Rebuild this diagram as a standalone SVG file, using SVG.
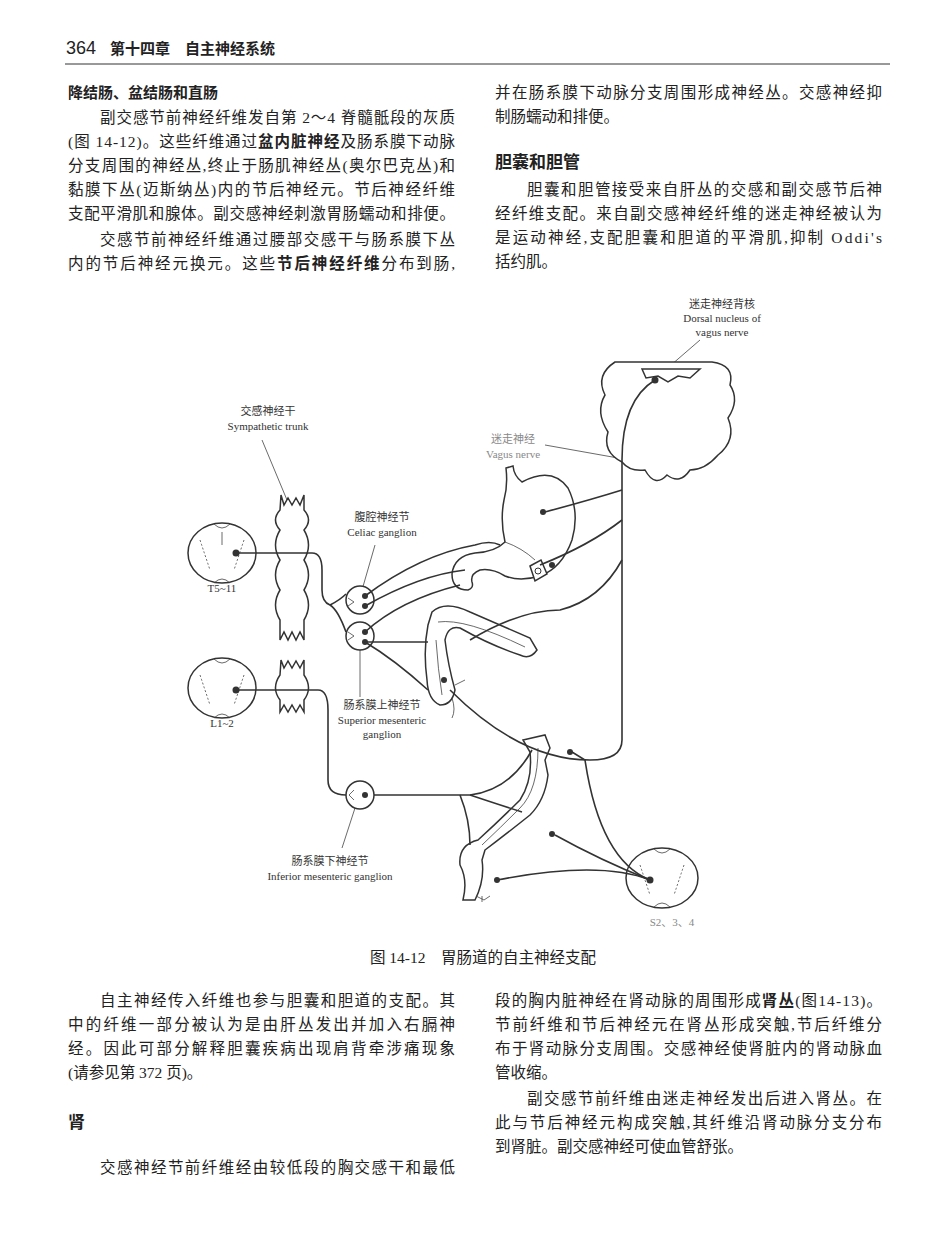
<svg xmlns="http://www.w3.org/2000/svg" width="950" height="1254" viewBox="0 0 950 1254">
<style>
.t{font-family:"Liberation Serif","Noto Sans CJK SC",serif;font-size:15.5px;fill:#222}
.b{font-family:"Noto Sans CJK SC",sans-serif;font-weight:bold;fill:#222}
.f{font-family:"Liberation Serif","Noto Sans CJK SC",serif;font-size:11px;fill:#333;text-anchor:middle}
.g{fill:#888}
.n{fill:none;stroke:#333;stroke-width:1.6}
.th{fill:none;stroke:#444;stroke-width:0.8}
.o{fill:#fff;stroke:#333;stroke-width:1.5}
.d{fill:#333}
</style>
<rect width="950" height="1254" fill="#fff"/>
<g id="header">
<text x="66" y="54" font-family="Liberation Sans,sans-serif" font-size="18" fill="#222">364</text>
<text x="110" y="54" class="b" font-size="15">第十四章　自主神经系统</text>
<line x1="65" y1="64" x2="890" y2="64" stroke="#333" stroke-width="1"/>
</g>
<g id="text-top">
<text x="68" y="98" class="b" font-size="15">降结肠、盆结肠和直肠</text>
<text x="100" y="123" class="t" textLength="355" lengthAdjust="spacing">副交感节前神经纤维发自第 2～4 脊髓骶段的灰质</text>
<text x="68" y="147" class="t" textLength="387" lengthAdjust="spacing">(图 14-12)。这些纤维通过<tspan font-weight="bold">盆内脏神经</tspan>及肠系膜下动脉</text>
<text x="68" y="171" class="t" textLength="387" lengthAdjust="spacing">分支周围的神经丛,终止于肠肌神经丛(奥尔巴克丛)和</text>
<text x="68" y="195" class="t" textLength="387" lengthAdjust="spacing">黏膜下丛(迈斯纳丛)内的节后神经元。节后神经纤维</text>
<text x="68" y="219" class="t" textLength="387" lengthAdjust="spacing">支配平滑肌和腺体。副交感神经刺激胃肠蠕动和排便。</text>
<text x="100" y="245" class="t" textLength="355" lengthAdjust="spacing">交感节前神经纤维通过腰部交感干与肠系膜下丛</text>
<text x="68" y="269" class="t" textLength="387" lengthAdjust="spacing">内的节后神经元换元。这些<tspan font-weight="bold">节后神经纤维</tspan>分布到肠,</text>
<text x="495" y="98" class="t" textLength="387" lengthAdjust="spacing">并在肠系膜下动脉分支周围形成神经丛。交感神经抑</text>
<text x="495" y="122" class="t">制肠蠕动和排便。</text>
<text x="495" y="168" class="b" font-size="17">胆囊和胆管</text>
<text x="527" y="195" class="t" textLength="355" lengthAdjust="spacing">胆囊和胆管接受来自肝丛的交感和副交感节后神</text>
<text x="495" y="219" class="t" textLength="387" lengthAdjust="spacing">经纤维支配。来自副交感神经纤维的迷走神经被认为</text>
<text x="495" y="243" class="t" textLength="387" lengthAdjust="spacing">是运动神经,支配胆囊和胆道的平滑肌,抑制 Oddi's</text>
<text x="495" y="267" class="t">括约肌。</text>
</g>
<g id="figure">
<g id="labels">
<text x="722" y="308" class="f">迷走神经背核</text>
<text x="722" y="322" class="f">Dorsal nucleus of</text>
<text x="722" y="336" class="f">vagus nerve</text>
<text x="268" y="415" class="f">交感神经干</text>
<text x="268" y="430" class="f">Sympathetic trunk</text>
<text x="513" y="443" class="f g">迷走神经</text>
<text x="513" y="458" class="f g">Vagus nerve</text>
<text x="382" y="521" class="f">腹腔神经节</text>
<text x="382" y="536" class="f">Celiac ganglion</text>
<text x="222" y="592" class="f">T5~11</text>
<text x="382" y="709" class="f">肠系膜上神经节</text>
<text x="382" y="724" class="f">Superior mesenteric</text>
<text x="382" y="738" class="f">ganglion</text>
<text x="222" y="727" class="f">L1~2</text>
<text x="330" y="865" class="f">肠系膜下神经节</text>
<text x="330" y="880" class="f">Inferior mesenteric ganglion</text>
<text x="672" y="926" class="f g">S2、3、4</text>
</g>
<g id="leaders" class="th">
<line x1="700" y1="340" x2="656" y2="378"/>
<line x1="262" y1="440" x2="287" y2="500"/>
<line x1="545" y1="445" x2="618" y2="458"/>
<line x1="375" y1="545" x2="362" y2="590"/>
<line x1="360" y1="650" x2="360" y2="697"/>
<line x1="342" y1="848" x2="355" y2="808"/>
</g>
<g id="cord-T5">
<ellipse cx="222" cy="553" rx="34" ry="30" class="o"/>
<path d="M214 524 Q222 532 230 524 M222 532 V545 M214 583 Q222 575 230 583" class="th"/>
<path d="M200 540 Q205 555 210 570 M244 540 Q239 555 234 570" class="th" stroke-dasharray="2 2"/>
<circle cx="236" cy="553" r="3.5" class="d"/>
</g>
<g id="cord-L1">
<ellipse cx="222" cy="688" rx="34" ry="30" class="o"/>
<path d="M214 659 Q222 667 230 659 M214 718 Q222 710 230 718" class="th"/>
<path d="M200 675 Q205 690 210 705 M244 675 Q239 690 234 705" class="th" stroke-dasharray="2 2"/>
<circle cx="236" cy="690" r="3.5" class="d"/>
</g>
<g id="cord-S2">
<ellipse cx="662" cy="878" rx="36" ry="30" class="o"/>
<path d="M654 849 Q662 857 670 849 M654 907 Q662 899 670 907" class="th"/>
<path d="M640 865 Q645 880 650 895 M684 865 Q679 880 674 895" class="th" stroke-dasharray="2 2"/>
<circle cx="650" cy="880" r="3.5" class="d"/>
</g>
<g id="trunk">
<path d="M281 495 L284 505 L288 498 L292 505 L296 498 L300 505 L304 495 V510 Q313 520 304 530 Q313 545 304 560 Q313 575 304 590 Q313 605 304 620 V640 L300 632 L296 640 L292 632 L288 640 L284 632 L280 640 V620 Q271 605 280 590 Q271 575 280 560 Q271 545 280 530 Q271 520 280 510 Z" class="o"/>
<path d="M281 660 L284 668 L288 661 L292 668 L296 661 L300 668 L304 660 V675 Q313 688 304 700 V712 L300 705 L296 712 L292 705 L288 712 L284 705 L280 712 V700 Q271 688 280 675 Z" class="o"/>
</g>
<g id="medulla">
<path d="M615 362 H712 Q735 365 730 385 Q740 400 728 418 Q737 440 718 455 Q705 470 690 470 Q680 485 667 475 Q655 488 645 470 Q630 472 622 462 Q602 452 608 432 Q595 412 605 395 Q595 375 615 362 Z" class="o"/>
<path d="M642 369 H700 L690 378 L678 376 L668 382 L658 376 L646 378 Z" class="o"/>
<circle cx="655" cy="380" r="3.5" class="d"/>
</g>
<g id="stomach">
<path d="M506 468 L513 466 Q514 476 522 482 Q552 466 568 488 Q580 512 572 540 Q562 568 540 576 Q520 582 505 576 Q492 568 480 570 Q470 574 472 582 Q474 588 468 590 Q452 590 452 574 Q454 556 475 553 Q495 552 505 542 Q500 520 504 500 Q508 486 506 468 Z" class="o"/>
<path d="M505 542 Q522 548 535 560" class="th"/>
<path d="M530 566 L541 560 L547 574 L535 581 Z" class="o"/>
<circle cx="538" cy="571" r="3" fill="none" stroke="#333"/>
</g>
<g id="colon-upper">
<path d="M432 612 Q445 600 470 612 Q500 625 530 638 L537 650 Q530 660 520 655 Q490 645 460 628 Q448 625 445 640 Q448 665 455 690 Q452 705 440 705 Q428 700 427 680 Q423 650 428 625 Z" class="o"/>
<path d="M438 622 Q465 618 525 647 M436 640 Q438 670 442 695" class="th"/>
<path d="M455 685 L465 680 M452 698 Q456 710 452 718" class="th"/>
<circle cx="444" cy="680" r="3" class="d"/>
</g>
<g id="colon-lower">
<path d="M523 740 L545 735 L550 748 L545 760 L548 775 Q545 800 530 815 Q505 835 485 850 L482 860 Q485 880 475 900 L463 900 Q468 880 460 865 Q458 845 478 840 Q500 820 520 800 Q533 780 530 752 Z" class="o"/>
<path d="M538 748 Q538 790 520 808 Q500 828 482 845" class="th"/>
<path d="M476 896 L484 900 L490 896 M482 896 V902" class="th"/>
</g>
<g id="ganglia">
<circle cx="360" cy="600" r="14" class="o"/>
<circle cx="360" cy="636" r="14" class="o"/>
<circle cx="360" cy="795" r="14" class="o"/>
<circle cx="365" cy="596" r="3" class="d"/><circle cx="365" cy="606" r="3" class="d"/>
<circle cx="365" cy="632" r="3" class="d"/><circle cx="365" cy="642" r="3" class="d"/>
<circle cx="365" cy="795" r="3" class="d"/>
<path d="M348 598 L354 602 L348 606 M348 632 L354 636 L348 640 M354 790 L349 795 L354 800" class="th"/>
</g>
<g id="connectors" class="n">
<path d="M236 553 H312 Q322 553 322 570 V590 Q322 602 330 605 Q340 600 346 594"/>
<path d="M330 605 Q338 610 346 632"/>
<path d="M236 690 H318 Q328 690 328 710 V780 Q328 795 346 795"/>
<path d="M365 596 Q420 555 475 545 Q490 540 500 545"/>
<path d="M365 606 Q420 575 465 570"/>
<path d="M365 632 Q400 600 460 585"/>
<path d="M365 642 H428"/>
<path d="M365 642 Q395 660 428 690"/>
<path d="M655 380 Q622 400 622 460 V740 Q622 760 590 760 Q520 760 450 690"/>
<path d="M622 490 Q590 500 545 512"/>
<path d="M622 520 Q590 545 540 565"/>
<path d="M622 560 Q600 600 560 610 Q520 610 470 640"/>
<path d="M374 795 H470 Q510 790 532 750"/>
<path d="M470 795 Q500 805 522 812"/>
<path d="M460 795 Q470 820 470 845"/>
<path d="M650 880 Q600 860 585 760 L572 752"/>
<path d="M650 880 Q600 860 555 835"/>
<path d="M650 880 Q600 860 497 880"/>
</g>
<g id="endings" class="d">
<circle cx="543" cy="512" r="3"/>
<circle cx="552" cy="565" r="3"/>
<circle cx="570" cy="752" r="3"/>
<circle cx="552" cy="834" r="3"/>
<circle cx="497" cy="880" r="3"/>
</g>
</g>
<text x="483" y="963" class="t" font-size="13.5" text-anchor="middle">图 14-12　胃肠道的自主神经支配</text>
<g id="text-bottom">
<text x="100" y="1006" class="t" textLength="355" lengthAdjust="spacing">自主神经传入纤维也参与胆囊和胆道的支配。其</text>
<text x="68" y="1030" class="t" textLength="387" lengthAdjust="spacing">中的纤维一部分被认为是由肝丛发出并加入右膈神</text>
<text x="68" y="1054" class="t" textLength="387" lengthAdjust="spacing">经。因此可部分解释胆囊疾病出现肩背牵涉痛现象</text>
<text x="68" y="1078" class="t">(请参见第 372 页)。</text>
<text x="68" y="1128" class="b" font-size="17">肾</text>
<text x="100" y="1173" class="t" textLength="355" lengthAdjust="spacing">交感神经节前纤维经由较低段的胸交感干和最低</text>
<text x="495" y="1006" class="t" textLength="387" lengthAdjust="spacing">段的胸内脏神经在肾动脉的周围形成<tspan font-weight="bold">肾丛</tspan>(图14-13)。</text>
<text x="495" y="1030" class="t" textLength="387" lengthAdjust="spacing">节前纤维和节后神经元在肾丛形成突触,节后纤维分</text>
<text x="495" y="1054" class="t" textLength="387" lengthAdjust="spacing">布于肾动脉分支周围。交感神经使肾脏内的肾动脉血</text>
<text x="495" y="1078" class="t">管收缩。</text>
<text x="527" y="1104" class="t" textLength="355" lengthAdjust="spacing">副交感节前纤维由迷走神经发出后进入肾丛。在</text>
<text x="495" y="1128" class="t" textLength="387" lengthAdjust="spacing">此与节后神经元构成突触,其纤维沿肾动脉分支分布</text>
<text x="495" y="1152" class="t">到肾脏。副交感神经可使血管舒张。</text>
</g>
</svg>
